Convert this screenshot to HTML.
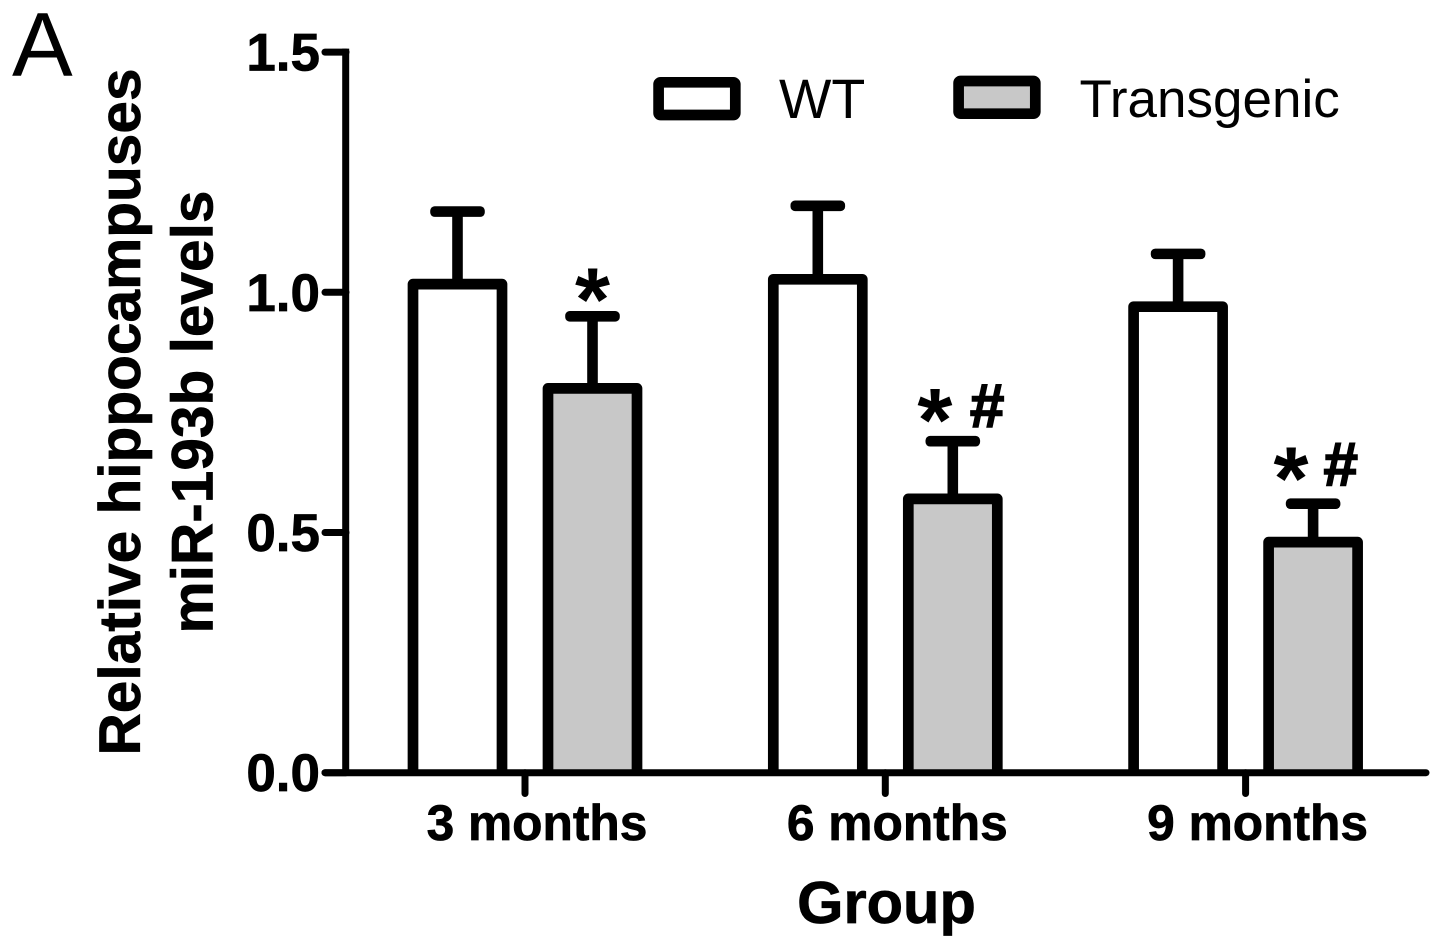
<!DOCTYPE html>
<html lang="en">
<head>
<meta charset="utf-8">
<title>miR-193b levels chart</title>
<style>
html,body{margin:0;padding:0;background:#fff;}
svg{display:block;font-family:"Liberation Sans",Arial,sans-serif;}
.heavy{font-weight:bold;stroke:#000;stroke-width:0.7px;}
</style>
</head>
<body>
<svg id="chart" width="1441" height="948" viewBox="0 0 1441 948" xmlns="http://www.w3.org/2000/svg">
  <rect x="0" y="0" width="1441" height="948" fill="#fff"/>
  <text x="12" y="76" font-size="91" fill="#000">A</text>
  <text class="heavy" transform="translate(140,412) rotate(-90)" text-anchor="middle" font-size="58.6" fill="#000">Relative hippocampuses</text>
  <text class="heavy" transform="translate(212.5,412) rotate(-90)" text-anchor="middle" font-size="58.6" fill="#000">miR-193b levels</text>
  <text class="heavy" x="886.5" y="923" text-anchor="middle" font-size="59.6" fill="#000">Group</text>
  <g id="marks"></g>
  <g>
    <rect x="658.6" y="82.3" width="76.7" height="32.7" rx="2" fill="#fff" stroke="#000" stroke-width="10.7"/>
    <text x="779" y="118" font-size="55.5" fill="#000">WT</text>
    <rect x="958.6" y="81" width="76.7" height="32.7" rx="2" fill="#c8c8c8" stroke="#000" stroke-width="10.7"/>
    <text x="1079.5" y="117" font-size="53" fill="#000">Transgenic</text>
  </g>
</svg>
<script>
const categories = ['3 months', '6 months', '9 months'];
const wtValues = [1.017, 1.027, 0.97];
const transgenicValues = [0.80, 0.57, 0.48];
const wtErrorTops = [1.168, 1.18, 1.08];
const transgenicErrorTops = [0.95, 0.69, 0.56];
const yTickValues = [0, 0.5, 1.0, 1.5];
const yTickLabels = ['0.0', '0.5', '1.0', '1.5'];
const significance = ['*', '* #', '* #'];

const NS = 'http://www.w3.org/2000/svg';
const marks = document.getElementById('marks');
const yScale = v => 772.7 - v * 480.4;
const xScale = i => 525 + i * 360.3;
const BAR_OFFSET = 67.5;
const BAR_WIDTH = 89;

function make(tag, attrs, text) {
  const el = document.createElementNS(NS, tag);
  for (const k in attrs) el.setAttribute(k, attrs[k]);
  if (text !== undefined) el.textContent = text;
  marks.appendChild(el);
  return el;
}

function drawSeries(values, errorTops, offset, fill, key) {
  values.forEach((v, i) => {
    const cx = xScale(i) + offset;
    const top = yScale(v);
    const errTop = yScale(errorTops[i]);
    const stem = make('rect', {x: cx - 5.3, y: errTop, width: 10.6, height: top - errTop, fill: '#000'});
    
    
    const cap = make('rect', {x: cx - 27.3, y: errTop - 5.3, width: 54.6, height: 10.6, rx: 4.5, fill: '#000'});
    
    
    const bar = make('path', {
      d: 'M' + (cx - BAR_WIDTH / 2) + ' ' + yScale(0) + 'V' + top + 'H' + (cx + BAR_WIDTH / 2) + 'V' + yScale(0),
      fill: fill, stroke: '#000', 'stroke-width': 10.7, 'stroke-linejoin': 'round'
    });
    
    
  });
}

drawSeries(wtValues, wtErrorTops, -BAR_OFFSET, '#fff', 'wt');
drawSeries(transgenicValues, transgenicErrorTops, BAR_OFFSET, '#c8c8c8', 'transgenic');

const yAxis = make('line', {x1: 345.7, x2: 345.7, y1: yScale(1.5) - 3.5, y2: yScale(0), stroke: '#000', 'stroke-width': 7});


const xAxis = make('line', {x1: 325, x2: 1426, y1: yScale(0), y2: yScale(0), stroke: '#000', 'stroke-width': 7, 'stroke-linecap': 'round'});



yTickValues.forEach((v, i) => {
  const y = yScale(v);
  const tick = make('line', {x1: 325, x2: 346, y1: y, y2: y, stroke: '#000', 'stroke-width': 7, 'stroke-linecap': 'round'});
  
  
  const label = make('text', {x: 320, y: y + 18.5, 'text-anchor': 'end', 'font-size': 53, 'class': 'heavy', fill: '#000'}, yTickLabels[i]);
  
  
});

categories.forEach((c, i) => {
  const x = xScale(i);
  const tick = make('line', {x1: x, x2: x, y1: yScale(0), y2: 793.5, stroke: '#000', 'stroke-width': 7, 'stroke-linecap': 'round'});
  
  
  const label = make('text', {x: x + 12, y: 840, 'text-anchor': 'middle', 'font-size': 49.7, 'class': 'heavy', fill: '#000'}, c);
  
  
});

significance.forEach((s, i) => {
  const cx = xScale(i) + BAR_OFFSET;
  const errTop = yScale(transgenicErrorTops[i]);
  const parts = s.split(' ');
  const starX = parts.length > 1 ? cx - 20 + (1.5 - i) * 4.2 : cx;
  const star = make('text', {x: starX, y: errTop + 14 - 4 * i, 'text-anchor': 'middle', 'font-size': 90, 'font-weight': 'bold', fill: '#000'}, parts[0]);
  
  
  if (parts.length > 1) {
    const hash = make('text', {x: cx + 31 + (1.5 - i) * 6.6, y: errTop - 10 - 4 * i, 'text-anchor': 'middle', 'font-size': 62, 'class': 'heavy', style: 'stroke-width:1.6px', fill: '#000'}, parts[1]);
    
    
  }
});
</script>
</body>
</html>
